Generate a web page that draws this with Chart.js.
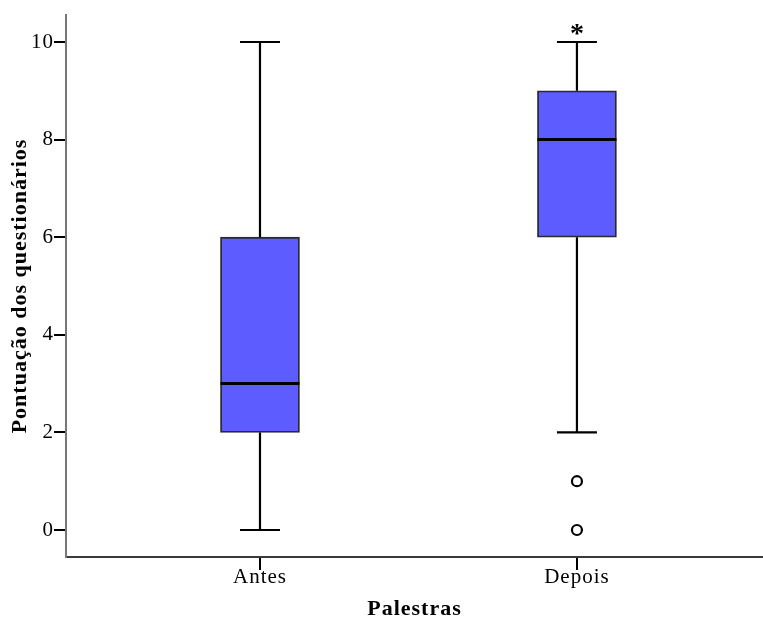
<!DOCTYPE html>
<html>
<head>
<meta charset="utf-8">
<script src="https://cdn.jsdelivr.net/npm/chart.js@4/dist/chart.umd.min.js"></script>
<style>
  html, body { margin: 0; padding: 0; background: #fff; }
  #wrap { width: 763px; height: 621px; position: relative; }
</style>
</head>
<body>
<div id="wrap"><canvas id="c"></canvas></div>
<script>
// ---- data ----
const categories = ['Antes', 'Depois'];
const positions = [1, 2];
const mins    = [0, 2];
const q1s     = [2, 6];
const medians = [3, 8];
const q3s     = [6, 9];
const maxs    = [10, 10];
const outlierValues = [[], [1, 0]];     // circles
const extremeValues = [[], [10.25]];    // asterisks
const yTicks = [0, 2, 4, 6, 8, 10];

const boxData = positions.map((p, i) => ({ x: p, y: [q1s[i], q3s[i]] }));
const outlierData = [];
outlierValues.forEach((vals, i) => vals.forEach(v => outlierData.push({ x: positions[i], y: v })));

const FONT = 'Liberation Serif';

const spacingPlugin = {
  id: 'spacing',
  beforeLayout(chart) { chart.ctx.letterSpacing = '1px'; },
  beforeDraw(chart) { chart.ctx.letterSpacing = '1px'; }
};

const boxPlugin = {
  id: 'boxParts',
  afterDatasetsDraw(chart) {
    const { ctx, scales: { x, y } } = chart;
    ctx.save();
    ctx.strokeStyle = '#000';
    positions.forEach((p, i) => {
      const cx = x.getPixelForValue(p);
      const half = 39.5;
      const cap = 20;
      ctx.lineWidth = 2.2;
      ctx.beginPath();
      ctx.moveTo(cx, y.getPixelForValue(q3s[i]));
      ctx.lineTo(cx, y.getPixelForValue(maxs[i]));
      ctx.moveTo(cx - cap, y.getPixelForValue(maxs[i]));
      ctx.lineTo(cx + cap, y.getPixelForValue(maxs[i]));
      ctx.moveTo(cx, y.getPixelForValue(q1s[i]));
      ctx.lineTo(cx, y.getPixelForValue(mins[i]));
      ctx.moveTo(cx - cap, y.getPixelForValue(mins[i]));
      ctx.lineTo(cx + cap, y.getPixelForValue(mins[i]));
      ctx.stroke();
      ctx.lineWidth = 3;
      ctx.beginPath();
      ctx.moveTo(cx - half, y.getPixelForValue(medians[i]));
      ctx.lineTo(cx + half, y.getPixelForValue(medians[i]));
      ctx.stroke();
      extremeValues[i].forEach(v => {
        ctx.font = 'bold 28px "' + FONT + '"';
        ctx.fillStyle = '#000';
        ctx.textAlign = 'center';
        ctx.textBaseline = 'alphabetic';
        ctx.letterSpacing = '0px';
        const m = ctx.measureText('*');
        const py = y.getPixelForValue(v);
        ctx.fillText('*', cx, py + (m.actualBoundingBoxAscent - m.actualBoundingBoxDescent) / 2);
      });
    });
    ctx.restore();
  }
};

new Chart(document.getElementById('c'), {
  type: 'bar',
  data: {
    datasets: [
      {
        type: 'bar',
        data: boxData,
        backgroundColor: '#5c5cff',
        borderColor: '#2a2a2a',
        borderWidth: 1.8,
        borderSkipped: false,
        barThickness: 79,
        order: 2
      },
      {
        type: 'scatter',
        data: outlierData,
        pointStyle: 'circle',
        pointRadius: 5,
        pointBorderWidth: 2.2,
        pointBackgroundColor: '#ffffff',
        pointBorderColor: '#000000',
        order: 1
      }
    ]
  },
  options: {
    responsive: true,
    maintainAspectRatio: false,
    animation: false,
    layout: { autoPadding: false, padding: { top: 15, right: 0, left: 0, bottom: 0 } },
    plugins: { legend: { display: false }, tooltip: { enabled: false } },
    scales: {
      x: {
        type: 'linear',
        offset: false,
        min: 0.388,
        max: 2.587,
        afterBuildTicks: s => { s.ticks = positions.map(v => ({ value: v })); },
        afterFit: s => { s.height = 64; s.paddingLeft = 0; s.paddingRight = 0; },
        ticks: {
          callback: v => categories[positions.indexOf(v)] ?? '',
          color: '#000',
          font: { family: FONT, size: 21 },
          padding: -5,
          maxRotation: 0,
          autoSkip: false
        },
        grid: { display: true, offset: false, drawOnChartArea: false, drawTicks: true, tickLength: 13, color: '#000', lineWidth: 2 },
        border: { display: true, color: '#3a3a3a', width: 2 },
        title: {
          display: true, text: 'Palestras', color: '#000',
          font: { family: FONT, size: 22, weight: 'bold' },
          padding: { top: 0, bottom: -2 }
        }
      },
      y: {
        min: -0.553,
        max: 10.553,
        afterBuildTicks: s => { s.ticks = yTicks.map(v => ({ value: v })); },
        afterFit: s => { s.width = 66; },
        ticks: {
          color: '#000',
          font: { family: FONT, size: 21 },
          padding: 0
        },
        grid: { display: true, drawOnChartArea: false, drawTicks: true, tickLength: 12, color: '#000', lineWidth: 2 },
        border: { display: true, color: '#777777', width: 2 },
        title: {
          display: true, text: 'Pontuação dos questionários', color: '#000',
          font: { family: FONT, size: 22, weight: 'bold' },
          padding: { top: 7, bottom: 0 }
        }
      }
    }
  },
  plugins: [spacingPlugin, boxPlugin]
});
</script>
</body>
</html>
